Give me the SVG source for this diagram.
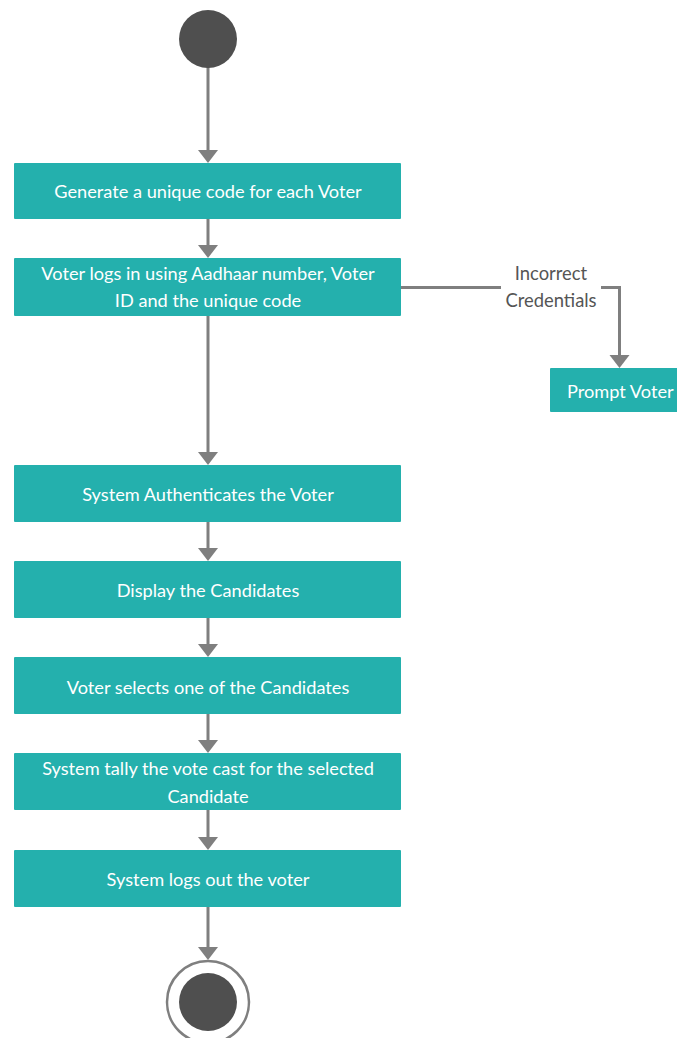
<svg xmlns="http://www.w3.org/2000/svg" width="677" height="1038" viewBox="0 0 677 1038">
<style>
.box{fill:#24b0ad;}
.t{font-family:Lato,"Open Sans",sans-serif;font-size:18.2px;fill:#ffffff;text-anchor:middle;}
.lbl{font-family:Lato,"Open Sans",sans-serif;font-size:18.4px;fill:#555555;text-anchor:middle;}
.e{stroke:#7f7f7f;stroke-width:3;fill:none;}
.ah{fill:#7f7f7f;}
</style>
<rect width="677" height="1038" fill="#ffffff"/>
<g id="connectors">
<line class="e" x1="208" y1="66" x2="208" y2="152"/>
<polygon class="ah" points="198,150 218,150 208,163"/>
<line class="e" x1="208" y1="219" x2="208" y2="248"/>
<polygon class="ah" points="198,245 218,245 208,258"/>
<line class="e" x1="208" y1="316" x2="208" y2="455"/>
<polygon class="ah" points="198,452 218,452 208,465"/>
<line class="e" x1="208" y1="522" x2="208" y2="551"/>
<polygon class="ah" points="198,548 218,548 208,561"/>
<line class="e" x1="208" y1="618" x2="208" y2="647"/>
<polygon class="ah" points="198,644 218,644 208,657"/>
<line class="e" x1="208" y1="714" x2="208" y2="743"/>
<polygon class="ah" points="198,740 218,740 208,753"/>
<line class="e" x1="208" y1="810" x2="208" y2="840"/>
<polygon class="ah" points="198,837 218,837 208,850"/>
<line class="e" x1="208" y1="907" x2="208" y2="950"/>
<polygon class="ah" points="198,947 218,947 208,960"/>
<polyline class="e" points="401,287.5 501,287.5"/>
<polyline class="e" points="601,287.5 619.5,287.5 619.5,358"/>
<polygon class="ah" points="609.5,355 629.5,355 619.5,368"/>
<text class="lbl" x="551" y="280">Incorrect</text>
<text class="lbl" x="551" y="307">Credentials</text>
</g>
<g id="start">
<circle cx="208" cy="39" r="29" fill="#4f4f4f"/>
</g>
<g id="n1">
<rect class="box" x="14" y="163" width="387" height="56" rx="1"/>
<text class="t" x="208" y="198">Generate a unique code for each Voter</text>
</g>
<g id="n2">
<rect class="box" x="14" y="258" width="387" height="58" rx="1"/>
<text class="t" x="208" y="280">Voter logs in using Aadhaar number, Voter</text>
<text class="t" x="208" y="307">ID and the unique code</text>
</g>
<g id="n_prompt">
<rect class="box" x="550" y="368" width="140" height="44" rx="1"/>
<text class="t" x="567" y="398" style="text-anchor:start">Prompt Voter</text>
</g>
<g id="n3">
<rect class="box" x="14" y="465" width="387" height="57" rx="1"/>
<text class="t" x="208" y="501">System Authenticates the Voter</text>
</g>
<g id="n4">
<rect class="box" x="14" y="561" width="387" height="57" rx="1"/>
<text class="t" x="208" y="597">Display the Candidates</text>
</g>
<g id="n5">
<rect class="box" x="14" y="657" width="387" height="57" rx="1"/>
<text class="t" x="208" y="694">Voter selects one of the Candidates</text>
</g>
<g id="n6">
<rect class="box" x="14" y="753" width="387" height="57" rx="1"/>
<text class="t" x="208" y="775">System tally the vote cast for the selected</text>
<text class="t" x="208" y="803">Candidate</text>
</g>
<g id="n7">
<rect class="box" x="14" y="850" width="387" height="57" rx="1"/>
<text class="t" x="208" y="886">System logs out the voter</text>
</g>
<g id="end">
<circle cx="208" cy="1002" r="41" fill="#ffffff" stroke="#7f7f7f" stroke-width="2.5"/>
<circle cx="208" cy="1002" r="29" fill="#4f4f4f"/>
</g>
</svg>
